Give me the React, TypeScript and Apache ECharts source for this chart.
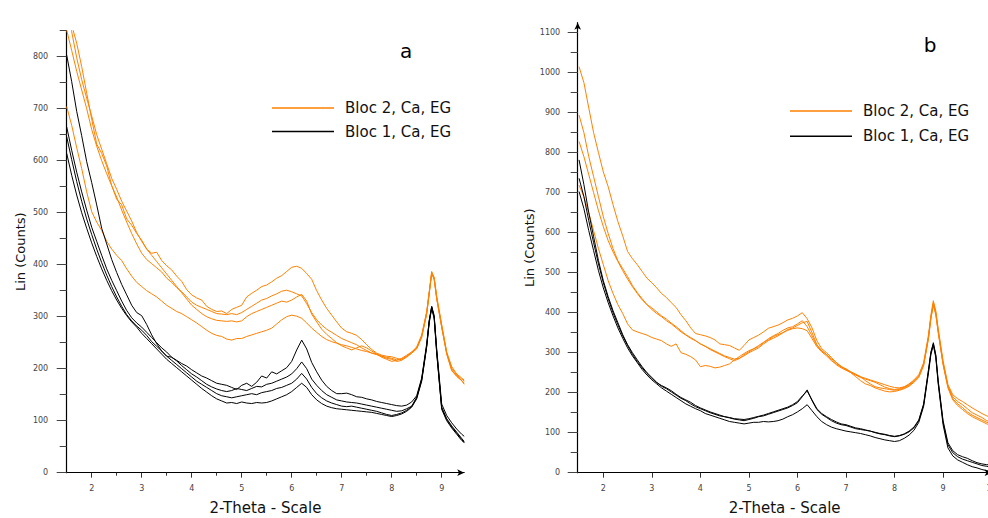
import React, { useEffect, useRef } from "react";
import * as echarts from "echarts";

// ---------- shared labels ----------
const SERIES_ORANGE = "Bloc 2, Ca, EG";
const SERIES_BLACK = "Bloc 1, Ca, EG";
const X_NAME = "2-Theta - Scale";
const Y_NAME = "Lin (Counts)";

// ---------- chart a (left) ----------
const A_Y_TICKS = [0, 100, 200, 300, 400, 500, 600, 700, 800];
const A_Y_MINOR = [50, 150, 250, 350, 450, 550, 650, 750, 850];
const A_X_TICKS = [2, 3, 4, 5, 6, 7, 8, 9];
const A_X_MINOR = [2.5, 3.5, 4.5, 5.5, 6.5, 7.5, 8.5, 9.0];

const A_X = [
  1.5, 1.6, 1.7, 1.8, 1.9, 2.0, 2.1, 2.2, 2.3, 2.4, 2.5, 2.6, 2.7, 2.8, 2.9,
  3.0, 3.1, 3.2, 3.3, 3.4, 3.5, 3.6, 3.7, 3.8, 3.9, 4.0, 4.1, 4.2, 4.3, 4.4,
  4.5, 4.6, 4.7, 4.8, 4.9, 5.0, 5.1, 5.2, 5.3, 5.4, 5.5, 5.6, 5.7, 5.8, 5.9,
  6.0, 6.1, 6.2, 6.3, 6.4, 6.5, 6.6, 6.7, 6.8, 6.9, 7.0, 7.1, 7.2, 7.3, 7.4,
  7.5, 7.6, 7.7, 7.8, 7.9, 8.0, 8.1, 8.2, 8.3, 8.4, 8.5, 8.6, 8.7,
  8.75, 8.8, 8.85, 8.9, 9.0, 9.1, 9.2, 9.3, 9.4, 9.45,
];

const A_ORANGE_1 = [
  920, 861, 826, 781, 730, 680, 632, 614, 590, 552, 526, 515, 488, 476, 460,
  447, 430, 422, 424, 408, 398, 390, 378, 368, 352, 342, 336, 332, 320, 314,
  310, 311, 306, 314, 318, 322, 338, 345, 351, 358, 361, 367, 374, 379, 387,
  395, 397, 393, 383, 372, 350, 332, 316, 303, 290, 278, 271, 268, 264, 256,
  246, 237, 230, 226, 224, 223, 220, 217, 222, 230, 240, 262, 306,
  345, 385, 372, 336, 281, 229, 196, 186, 177, 172,
];
const A_ORANGE_2 = [
  851, 812, 772, 736, 700, 660, 628, 600, 575, 552, 530, 505, 482, 460, 440,
  422, 410, 402, 394, 386, 374, 366, 356, 348, 338, 328, 322, 318, 314, 310,
  306, 305, 304, 306, 304, 308, 314, 320, 326, 332, 335, 340, 344, 349, 351,
  348, 344, 340, 325, 308, 294, 284, 276, 270, 264, 258, 254, 250, 246, 240,
  235, 230, 228, 224, 220, 218, 214, 216, 224, 230, 238, 260, 305,
  343, 383, 371, 334, 279, 228, 198, 185, 177, 170,
];
const A_ORANGE_3 = [
  900, 848, 798, 756, 720, 686, 650, 622, 594, 566, 545, 522, 503, 484, 462,
  445, 430, 418, 406, 394, 382, 370, 358, 346, 334, 322, 314, 306, 300, 296,
  293, 292, 291, 292, 290, 292, 300, 306, 310, 314, 318, 322, 326, 330, 328,
  332, 338, 343, 330, 305, 290, 276, 266, 258, 250, 244, 240, 236, 240, 244,
  240, 234, 228, 222, 218, 214, 216, 220, 226, 232, 240, 263, 308,
  346, 387, 374, 336, 282, 231, 201, 188, 180, 176,
];
const A_ORANGE_4 = [
  704, 668, 625, 585, 540, 502, 482, 466, 445, 430, 418, 408, 392, 378, 366,
  358, 350, 344, 338, 330, 322, 316, 310, 306, 300, 294, 288, 281, 274, 268,
  264, 262, 257, 255, 258, 258, 262, 265, 268, 271, 274, 278, 286, 294, 300,
  303, 301, 297, 288, 278, 270, 262, 256, 252, 249, 246, 244, 241, 238, 235,
  233, 230, 227, 224, 222, 220, 217, 219, 224, 232, 242, 265, 310,
  348, 384, 376, 340, 285, 232, 204, 190, 182, 178,
];
const A_BLACK_1 = [
  803, 752, 695, 648, 598, 558, 515, 470, 440, 410, 385, 362, 342, 322, 308,
  302, 285, 265, 248, 234, 224, 222, 216, 210, 205, 198, 192, 186, 182, 177,
  172, 170, 168, 164, 160, 168, 172, 166, 174, 186, 182, 194, 190, 196, 202,
  214, 236, 255, 238, 212, 194, 178, 166, 158, 152, 152, 153, 150, 146, 145,
  142, 140, 137, 135, 133, 131, 129, 128, 130, 136, 148, 182, 248,
  292, 319, 300, 238, 132, 110, 96, 84, 74, 70,
];
const A_BLACK_2 = [
  665, 620, 578, 540, 505, 472, 445, 418, 392, 370, 350, 330, 312, 298, 288,
  280, 270, 260, 250, 240, 232, 222, 215, 206, 198, 190, 184, 177, 170, 165,
  161, 158, 156, 158, 162, 160, 158, 162, 166, 165, 170, 172, 176, 180, 184,
  190, 200, 213, 200, 180, 168, 158, 150, 145, 140, 138, 136, 135, 134, 132,
  130, 128, 126, 124, 122, 120, 118, 119, 123, 128, 145, 180, 245,
  292, 320, 302, 235, 126, 104, 90, 78, 66, 60,
];
const A_BLACK_3 = [
  646, 602, 560, 522, 488, 458, 430, 404, 380, 358, 338, 320, 304, 292, 282,
  274, 264, 252, 243, 234, 224, 216, 208, 200, 192, 184, 176, 170, 164, 158,
  152, 148, 146, 144, 146, 148, 150, 152, 150, 154, 156, 158, 162, 164, 168,
  172, 180, 191, 180, 164, 152, 144, 138, 134, 131, 128, 127, 128, 126, 124,
  122, 120, 118, 115, 112, 110, 112, 115, 120, 127, 144, 178, 243,
  290, 318, 298, 232, 122, 100, 86, 74, 62, 58,
];
const A_BLACK_4 = [
  614, 572, 534, 500, 470, 442, 416, 392, 370, 350, 332, 316, 302, 290, 280,
  268, 258, 248, 238, 228, 218, 210, 202, 194, 186, 178, 170, 162, 155, 148,
  142, 138, 134, 135, 133, 136, 134, 133, 135, 134, 135, 138, 142, 146, 150,
  156, 164, 172, 164, 150, 140, 133, 128, 125, 123, 122, 121, 120, 119, 118,
  117, 116, 114, 112, 110, 108, 110, 113, 118, 126, 142, 176, 242,
  288, 316, 296, 230, 124, 102, 88, 76, 64, 58,
];

// ---------- chart b (right) ----------
const B_Y_TICKS = [0, 100, 200, 300, 400, 500, 600, 700, 800, 900, 1000, 1100];
const B_Y_MINOR = [50, 150, 250, 350, 450, 550, 650, 750, 850, 950, 1050];
const B_X_TICKS = [2, 3, 4, 5, 6, 7, 8, 9, 10];

const B_X = [
  1.5, 1.6, 1.7, 1.8, 1.9, 2.0, 2.1, 2.2, 2.3, 2.4, 2.5, 2.6, 2.7, 2.8, 2.9,
  3.0, 3.1, 3.2, 3.3, 3.4, 3.5, 3.6, 3.7, 3.8, 3.9, 4.0, 4.1, 4.2, 4.3, 4.4,
  4.5, 4.6, 4.7, 4.8, 4.9, 5.0, 5.1, 5.2, 5.3, 5.4, 5.5, 5.6, 5.7, 5.8, 5.9,
  6.0, 6.1, 6.2, 6.3, 6.4, 6.5, 6.6, 6.7, 6.8, 6.9, 7.0, 7.1, 7.2, 7.3, 7.4,
  7.5, 7.6, 7.7, 7.8, 7.9, 8.0, 8.1, 8.2, 8.3, 8.4, 8.5, 8.6, 8.7,
  8.75, 8.8, 8.85, 8.9, 9.0, 9.1, 9.2, 9.3, 9.4, 9.5,
  9.6, 9.7, 9.8, 9.9, 9.95,
];

const B_ORANGE_1 = [
  1015, 975, 912, 850, 800, 752, 715, 670, 628, 592, 553, 535, 520, 503, 486,
  475, 462, 448, 438, 425, 413, 395, 380, 362, 348, 345, 342, 338, 332, 322,
  320, 318, 312, 306, 318, 332, 338, 344, 352, 361, 365, 369, 375, 382, 386,
  392, 400, 385, 362, 330, 310, 300, 288, 275, 265, 260, 252, 246, 240, 236,
  232, 228, 224, 220, 216, 213, 212, 215, 222, 232, 245, 275, 345,
  395, 430, 405, 360, 280, 220, 195, 185, 178, 170,
  162, 155, 148, 142, 140,
];
const B_ORANGE_2 = [
  894, 850, 790, 740, 690, 640, 598, 560, 530, 510, 490, 468, 450, 435, 420,
  408, 398, 390, 380, 372, 362, 352, 344, 336, 330, 322, 316, 310, 304, 298,
  292, 288, 284, 286, 292, 300, 306, 312, 322, 330, 336, 342, 350, 358, 362,
  368, 375, 378, 350, 320, 305, 296, 282, 270, 262, 256, 250, 244, 238, 234,
  230, 226, 220, 214, 210, 208, 210, 214, 220, 230, 242, 272, 340,
  390, 425, 400, 355, 275, 218, 190, 178, 170, 160,
  150, 144, 138, 130, 128,
];
const B_ORANGE_3 = [
  828, 790, 745, 700, 655, 615, 580, 552, 528, 505, 484, 465, 448, 432, 420,
  412, 402, 392, 384, 374, 365, 355, 345, 338, 330, 322, 316, 308, 302, 296,
  290, 285, 280, 285, 295, 302, 310, 318, 326, 332, 340, 345, 350, 356, 360,
  362, 360, 355, 335, 315, 302, 292, 280, 272, 265, 258, 252, 246, 240, 230,
  222, 215, 212, 210, 208, 206, 208, 212, 218, 228, 240, 270, 338,
  388, 420, 398, 352, 272, 215, 185, 172, 163, 152,
  144, 138, 132, 126, 124,
];
const B_ORANGE_4 = [
  719, 690, 650, 605, 560, 520, 480, 448, 420, 398, 372, 357, 352, 348, 344,
  338, 334, 330, 322, 316, 322, 300, 296, 290, 282, 265, 268, 266, 262, 264,
  268, 272, 282, 290, 298, 305, 310, 315, 325, 335, 342, 348, 356, 362, 365,
  372, 380, 365, 342, 318, 305, 295, 285, 276, 266, 258, 250, 240, 230, 222,
  218, 212, 208, 204, 202, 203, 206, 210, 216, 226, 238, 268, 335,
  385, 418, 395, 350, 270, 212, 182, 168, 158, 148,
  140, 134, 128, 122, 120,
];
const B_BLACK_1 = [
  782, 720, 650, 590, 530, 480, 440, 405, 375, 345, 320, 300, 282, 265, 250,
  238, 226, 216, 210, 202, 194, 186, 180, 172, 165, 160, 155, 150, 146, 142,
  140, 137, 134, 132, 130, 133, 136, 140, 142, 146, 150, 154, 158, 162, 168,
  175, 190, 207, 180, 158, 146, 138, 130, 124, 120, 118, 114, 110, 108, 106,
  104, 100, 97, 95, 92, 90, 92, 96, 102, 112, 130, 170, 255,
  300, 325, 295, 230, 130, 75, 55, 45, 40, 36,
  30, 25, 22, 20, 20,
];
const B_BLACK_2 = [
  736, 690, 630, 575, 522, 475, 435, 400, 370, 342, 318, 296, 278, 262, 248,
  236, 225, 218, 212, 205, 196, 188, 182, 176, 168, 162, 157, 152, 148, 144,
  140, 138, 135, 134, 133, 135, 138, 141, 144, 148, 152, 156, 160, 164, 170,
  178, 192, 204, 182, 160, 148, 140, 133, 127, 122, 120, 116, 112, 110, 107,
  104, 101, 98, 96, 93, 91, 93, 97, 104, 114, 132, 172, 258,
  302, 322, 292, 226, 126, 70, 50, 40, 34, 30,
  26, 22, 18, 16, 15,
];
const B_BLACK_3 = [
  703, 660, 605, 555, 505, 462, 425, 392, 362, 336, 312, 292, 275, 258, 244,
  232, 222, 212, 204, 196, 188, 180, 172, 166, 160, 155, 148, 144, 140, 136,
  132, 128, 126, 124, 122, 124, 126, 126, 128, 127, 128, 130, 134, 140, 145,
  152, 160, 170, 155, 140, 128, 120, 114, 110, 107, 104, 102, 100, 98, 95,
  92, 88, 85, 82, 80, 78, 80, 86, 94, 106, 126, 166, 250,
  296, 318, 288, 222, 120, 62, 42, 32, 26, 20,
  15, 12, 8, 5, 4,
];

const ORANGE = "#ff8000";
const BLACK = "#000000";
const FONT = "DejaVu Sans";

const A_ORANGES = [A_ORANGE_1, A_ORANGE_2, A_ORANGE_3, A_ORANGE_4];
const A_BLACKS = [A_BLACK_1, A_BLACK_2, A_BLACK_3, A_BLACK_4];
const B_ORANGES = [B_ORANGE_1, B_ORANGE_2, B_ORANGE_3, B_ORANGE_4];
const B_BLACKS = [B_BLACK_1, B_BLACK_2, B_BLACK_3];

function line(name: string, color: string, xs: number[], ys: number[], axisIdx: number) {
  return {
    type: "line",
    name,
    xAxisIndex: axisIdx,
    yAxisIndex: axisIdx,
    data: xs.map((x, i) => [x, ys[i]]),
    showSymbol: false,
    symbol: "none",
    clip: true,
    silent: true,
    lineStyle: { color, width: 1 },
    itemStyle: { color },
  };
}

const tickLabelStyle = { fontFamily: FONT, fontSize: 8, color: "#444" };
const nameStyle = { fontFamily: FONT, fontSize: 13, color: "#111" };
const plain = (v: number) => String(v);

function mainX(grid: number, min: number, max: number, ticks: number[], arrow: boolean) {
  return {
    type: "value",
    gridIndex: grid,
    position: "bottom",
    min,
    max,
    name: X_NAME,
    nameLocation: "middle",
    nameGap: 28,
    nameTextStyle: { ...nameStyle, fontSize: 15 },
    axisLine: {
      show: true,
      onZero: false,
      lineStyle: { color: "#000", width: 1.2 },
      symbol: arrow ? ["none", "arrow"] : ["none", "none"],
      symbolSize: [5, 7],
    },
    axisTick: { show: true, customValues: ticks, length: 5, lineStyle: { color: "#333" } },
    axisLabel: { show: true, customValues: ticks, margin: 12, formatter: plain, ...tickLabelStyle },
    splitLine: { show: false },
  };
}
function minorX(grid: number, min: number, max: number, ticks: number[]) {
  return {
    type: "value",
    gridIndex: grid,
    position: "bottom",
    min,
    max,
    axisLine: { show: false, onZero: false },
    axisTick: { show: true, customValues: ticks, length: 3, lineStyle: { color: "#333" } },
    axisLabel: { show: false },
    splitLine: { show: false },
  };
}
function mainY(grid: number, max: number, ticks: number[], margin: number, arrow: boolean) {
  return {
    type: "value",
    gridIndex: grid,
    position: "left",
    min: 0,
    max,
    name: Y_NAME,
    nameLocation: "middle",
    nameGap: 40,
    nameTextStyle: nameStyle,
    axisLine: {
      show: true,
      onZero: false,
      lineStyle: { color: "#000", width: 1.2 },
      symbol: arrow ? ["none", "arrow"] : ["none", "none"],
      symbolSize: [5, 7],
    },
    axisTick: { show: true, customValues: ticks, length: 10, lineStyle: { color: "#444" } },
    axisLabel: { show: true, customValues: ticks, margin, formatter: plain, ...tickLabelStyle },
    splitLine: { show: false },
  };
}
function minorY(grid: number, max: number, ticks: number[]) {
  return {
    type: "value",
    gridIndex: grid,
    position: "left",
    min: 0,
    max,
    axisLine: { show: false, onZero: false },
    axisTick: { show: true, customValues: ticks, length: 7, lineStyle: { color: "#444" } },
    axisLabel: { show: false },
    splitLine: { show: false },
  };
}

function legend(left: number, top: number, gap: number) {
  return {
    left,
    top,
    padding: 0,
    orient: "vertical",
    icon: "rect",
    itemWidth: 62,
    itemHeight: 1.5,
    itemGap: gap,
    selectedMode: false,
    textStyle: { fontFamily: FONT, fontSize: 15, lineHeight: 16, color: "#111", padding: [0, 0, 0, 6] },
    data: [SERIES_ORANGE, SERIES_BLACK],
  };
}

export default function App() {
  const ref = useRef<HTMLDivElement>(null);
  useEffect(() => {
    if (!ref.current) return;
    const chart = echarts.init(ref.current, undefined, { renderer: "svg" });
    const series: any[] = [];
    A_ORANGES.forEach((ys) => series.push(line(SERIES_ORANGE, ORANGE, A_X, ys, 0)));
    A_BLACKS.forEach((ys) => series.push(line(SERIES_BLACK, BLACK, A_X, ys, 0)));
    B_ORANGES.forEach((ys) => series.push(line(SERIES_ORANGE, ORANGE, B_X, ys, 2)));
    B_BLACKS.forEach((ys) => series.push(line(SERIES_BLACK, BLACK, B_X, ys, 2)));

    chart.setOption({
      animation: false,
      backgroundColor: "#ffffff",
      textStyle: { fontFamily: FONT },
      grid: [
        { left: 66.7, top: 30.7, width: 397.5, height: 442, containLabel: false, outerBoundsMode: "none" },
        { left: 577.7, top: 22.7, width: 413.9, height: 450, containLabel: false, outerBoundsMode: "none" },
      ],
      xAxis: [
        mainX(0, 1.5, 9.45, A_X_TICKS, true),
        minorX(0, 1.5, 9.45, A_X_MINOR),
        mainX(1, 1.472, 10, B_X_TICKS, true),
      ],
      yAxis: [
        mainY(0, 850, A_Y_TICKS, 18.5, false),
        minorY(0, 850, A_Y_MINOR),
        mainY(1, 1125, B_Y_TICKS, 17.5, true),
        minorY(1, 1125, B_Y_MINOR),
      ],
      legend: [legend(272, 100, 7.5), legend(790, 103, 9.3)],
      graphic: [
        { type: "text", x: 406, y: 51, style: { text: "a", fontSize: 20, fontFamily: FONT, fill: "#000", align: "center", verticalAlign: "middle" } },
        { type: "text", x: 930, y: 45, style: { text: "b", fontSize: 20, fontFamily: FONT, fill: "#000", align: "center", verticalAlign: "middle" } },
      ],
      series,
    });
    return () => chart.dispose();
  }, []);

  return (
    <div style={{ position: "fixed", left: 0, top: 0, width: 988, height: 518, overflow: "hidden", background: "#fff" }}>
      <div ref={ref} style={{ width: 1000, height: 518 }} />
    </div>
  );
}
